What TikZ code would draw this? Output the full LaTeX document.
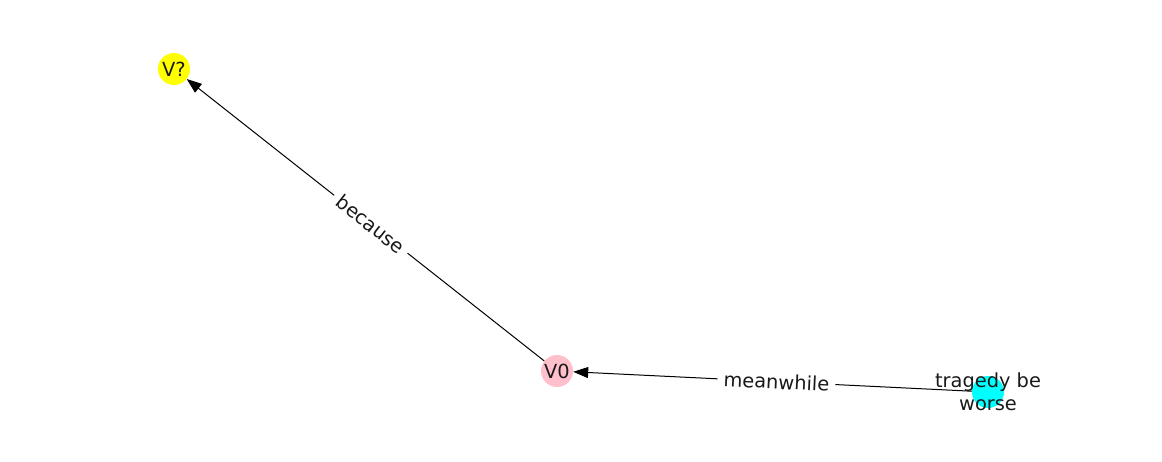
\documentclass[tikz,border=0pt]{standalone}
\usepackage{fontspec}
\setmainfont{DejaVu Sans}
\usetikzlibrary{arrows.meta}
\begin{document}
\begin{tikzpicture}[x=1pt,y=-1pt,
  vertex/.style={circle,minimum size=32pt,inner sep=0pt,draw=none},
  vtext/.style={font=\fontsize{19.4}{23}\selectfont,text=black!90,align=center},
  edgelabel/.style={font=\fontsize{19.4}{23}\selectfont,text=black!90,fill=white,inner xsep=6pt,inner ysep=4pt},
  conn/.style={line width=1pt,-{Triangle[length=15pt,width=11pt]}}]
\useasboundingbox (0,0) rectangle (1162,462);
\node[vertex,fill={rgb,255:red,255;green,255;blue,0}] (vq) at (174,69) {};
\node[vertex,fill={rgb,255:red,255;green,192;blue,203}] (v0) at (557,371) {};
\node[vertex,fill={rgb,255:red,0;green,255;blue,255}] (tr) at (988,392) {};
\draw[conn] (v0) -- (vq) node[pos=0.485,sloped,edgelabel] (lb) {because};
\draw[conn] (tr) -- (v0) node[pos=0.49,sloped,edgelabel] (lm) {meanwhile};
\node[vtext] (tvq) at (vq) {V?};
\node[vtext] (tv0) at (v0) {V0};
\node[vtext] (ttr) at (tr) {tragedy be\\worse};
\end{tikzpicture}
\end{document}
